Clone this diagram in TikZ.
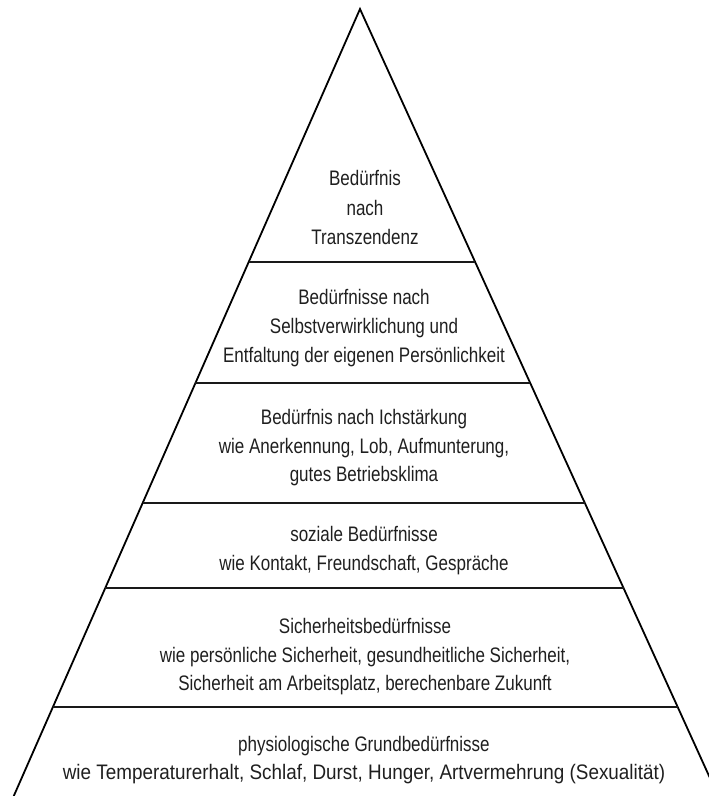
\documentclass[tikz,border=0pt]{standalone}
\usepackage{fontspec}
\setmainfont{Liberation Sans}[FakeStretch=0.81]
\usetikzlibrary{calc}
\begin{document}
\begin{tikzpicture}[x=1pt,y=-1pt,
  side/.style={line width=1.8pt,black},
  tier/.style={line width=2.4pt,black!90},
  lbl/.style={anchor=base,inner sep=0pt,text=black!88,font=\fontsize{21}{29}\selectfont}]
\useasboundingbox (0,0) rectangle (709,796);
\begin{scope}
\clip (0,0) rectangle (709,796);
\coordinate (apex) at (360,9);
\coordinate (bl) at (12,800);
\coordinate (br) at (720,800);
\draw[side] (bl) -- (apex) -- (br);
% tier lines (fraction = (y-9)/791)
\foreach \yy/\nm in {262/a,383/b,503/c,588/d,707/e}{
  \pgfmathsetmacro{\t}{(\yy-9)/791}
  \coordinate (L\nm) at ($(apex)!\t!(bl)$);
  \coordinate (R\nm) at ($(apex)!\t!(br)$);
  \draw[tier] (L\nm) -- (R\nm);
}
\end{scope}
% texts
\node[lbl] (t1a) at (365,185) {Bedürfnis};
\node[lbl] (t1b) at (365,215) {nach};
\node[lbl] (t1c) at (365,244) {Transzendenz};
\node[lbl] (t2a) at (364,304) {Bedürfnisse nach};
\node[lbl] (t2b) at (364,333) {Selbstverwirklichung und};
\node[lbl] (t2c) at (364,362) {Entfaltung der eigenen Persönlichkeit};
\node[lbl] (t3a) at (364,424) {Bedürfnis nach Ichstärkung};
\node[lbl] (t3b) at (364,453) {wie Anerkennung, Lob, Aufmunterung,};
\node[lbl] (t3c) at (364,481) {gutes Betriebsklima};
\node[lbl] (t4a) at (364,541) {soziale Bedürfnisse};
\node[lbl] (t4b) at (364,570) {wie Kontakt, Freundschaft, Gespräche};
\node[lbl] (t5a) at (365,633) {Sicherheitsbedürfnisse};
\node[lbl] (t5b) at (365,662) {wie persönliche Sicherheit, gesundheitliche Sicherheit,};
\node[lbl] (t5c) at (365,690) {Sicherheit am Arbeitsplatz, berechenbare Zukunft};
\node[lbl] (t6a) at (364,751) {physiologische Grundbedürfnisse};
\node[lbl] (t6b) at (364,779) {\scalebox{1.11}[1]{wie Temperaturerhalt, Schlaf, Durst, Hunger, Artvermehrung (Sexualität)}};
\end{tikzpicture}
\end{document}
